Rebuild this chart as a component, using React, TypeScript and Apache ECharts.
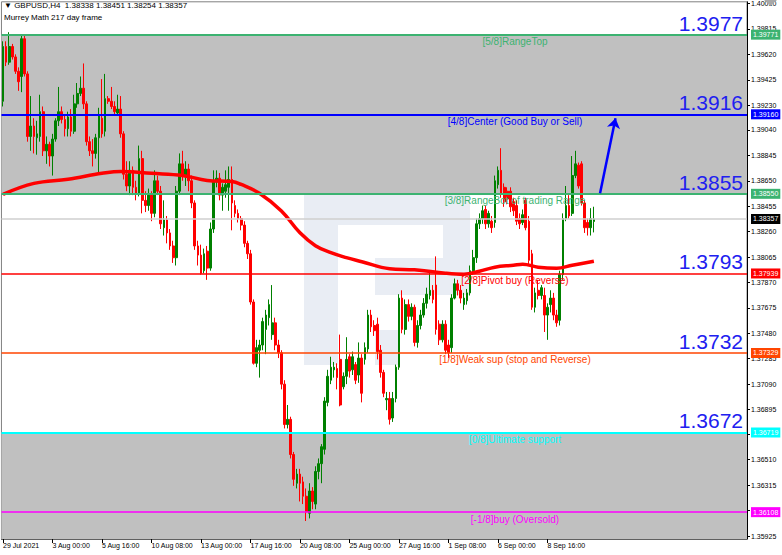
import React, { useEffect, useRef } from 'react';
import * as echarts from 'echarts';

// ---- data ----
const timeLabels = ['29 Jul 2021', '3 Aug 00:00', '5 Aug 16:00', '10 Aug 08:00', '13 Aug 00:00', '17 Aug 16:00', '20 Aug 08:00', '25 Aug 00:00', '27 Aug 16:00', '1 Sep 08:00', '6 Sep 00:00', '8 Sep 16:00'];
const LABEL_STEP = 16;
const SLOT_COUNT = 241;

// [open, close, low, high] per H4 bar
const ohlc: number[][] = [
  [1.3926, 1.3968, 1.3922, 1.3972], [1.3968, 1.3956, 1.3953, 1.3972], [1.3956, 1.3968, 1.3954, 1.3979], [1.3968, 1.3960, 1.3958, 1.3970],
  [1.3960, 1.3949, 1.3947, 1.3962], [1.3949, 1.3941, 1.3934, 1.3952], [1.3945, 1.3974, 1.3933, 1.3977], [1.3974, 1.3947, 1.3945, 1.3977],
  [1.3947, 1.3899, 1.3895, 1.3949], [1.3899, 1.3907, 1.3888, 1.3930], [1.3907, 1.3899, 1.3886, 1.3913], [1.3898, 1.3901, 1.3885, 1.3911],
  [1.3899, 1.3918, 1.3895, 1.3931], [1.3918, 1.3888, 1.3884, 1.3922], [1.3888, 1.3893, 1.3878, 1.3899], [1.3893, 1.3884, 1.3876, 1.3895],
  [1.3884, 1.3897, 1.3869, 1.3901], [1.3897, 1.3911, 1.3895, 1.3913], [1.3911, 1.3918, 1.3907, 1.3937], [1.3918, 1.3912, 1.3909, 1.3922],
  [1.3912, 1.3905, 1.3899, 1.3916], [1.3905, 1.3914, 1.3899, 1.3918], [1.3914, 1.3903, 1.3899, 1.3920], [1.3903, 1.3924, 1.3901, 1.3931],
  [1.3924, 1.3932, 1.3921, 1.3940], [1.3932, 1.3936, 1.3930, 1.3945], [1.3936, 1.3924, 1.3920, 1.3955], [1.3924, 1.3895, 1.3892, 1.3926],
  [1.3895, 1.3888, 1.3884, 1.3899], [1.3888, 1.3886, 1.3876, 1.3897], [1.3886, 1.3898, 1.3882, 1.3901], [1.3898, 1.3915, 1.3871, 1.3921],
  [1.3913, 1.3901, 1.3898, 1.3943], [1.3903, 1.3928, 1.3899, 1.3947], [1.3928, 1.3926, 1.3924, 1.3930], [1.3926, 1.3922, 1.3920, 1.3937],
  [1.3922, 1.3918, 1.3915, 1.3926], [1.3917, 1.3920, 1.3915, 1.3931], [1.3920, 1.3901, 1.3898, 1.3930], [1.3901, 1.3870, 1.3866, 1.3903],
  [1.3870, 1.3861, 1.3857, 1.3880], [1.3861, 1.3873, 1.3854, 1.3880], [1.3873, 1.3860, 1.3854, 1.3876], [1.3860, 1.3855, 1.3850, 1.3865],
  [1.3855, 1.3882, 1.3853, 1.3892], [1.3882, 1.3850, 1.3840, 1.3888], [1.3850, 1.3846, 1.3841, 1.3857], [1.3846, 1.3854, 1.3842, 1.3859],
  [1.3854, 1.3840, 1.3834, 1.3857], [1.3840, 1.3865, 1.3837, 1.3873], [1.3865, 1.3857, 1.3854, 1.3869], [1.3857, 1.3832, 1.3828, 1.3861],
  [1.3829, 1.3835, 1.3823, 1.3850], [1.3835, 1.3825, 1.3817, 1.3838], [1.3825, 1.3815, 1.3812, 1.3828], [1.3815, 1.3806, 1.3802, 1.3819],
  [1.3806, 1.3857, 1.3800, 1.3861], [1.3857, 1.3878, 1.3854, 1.3886], [1.3878, 1.3869, 1.3865, 1.3888], [1.3869, 1.3874, 1.3861, 1.3880],
  [1.3874, 1.3865, 1.3857, 1.3878], [1.3865, 1.3848, 1.3844, 1.3869], [1.3848, 1.3815, 1.3812, 1.3850], [1.3815, 1.3808, 1.3800, 1.3819],
  [1.3808, 1.3794, 1.3793, 1.3816], [1.3796, 1.3809, 1.3794, 1.3813], [1.3811, 1.3798, 1.3789, 1.3815],
  [1.3798, 1.3828, 1.3796, 1.3833], [1.3828, 1.3865, 1.3825, 1.3873], [1.3864, 1.3867, 1.3860, 1.3873], [1.3867, 1.3854, 1.3850, 1.3871],
  [1.3854, 1.3860, 1.3842, 1.3863], [1.3857, 1.3862, 1.3852, 1.3873], [1.3860, 1.3866, 1.3842, 1.3876], [1.3866, 1.3848, 1.3827, 1.3876],
  [1.3846, 1.3840, 1.3837, 1.3850], [1.3840, 1.3836, 1.3833, 1.3843], [1.3836, 1.3831, 1.3827, 1.3838], [1.3831, 1.3817, 1.3814, 1.3834],
  [1.3817, 1.3809, 1.3805, 1.3819], [1.3809, 1.3772, 1.3770, 1.3812], [1.3772, 1.3725, 1.3724, 1.3774], [1.3725, 1.3737, 1.3722, 1.3743],
  [1.3735, 1.3739, 1.3714, 1.3743], [1.3739, 1.3757, 1.3735, 1.3760], [1.3751, 1.3762, 1.3732, 1.3766], [1.3760, 1.3770, 1.3754, 1.3774],
  [1.3747, 1.3756, 1.3743, 1.3785], [1.3756, 1.3739, 1.3735, 1.3760], [1.3739, 1.3733, 1.3729, 1.3743],
  [1.3733, 1.3709, 1.3705, 1.3735], [1.3709, 1.3678, 1.3675, 1.3712], [1.3678, 1.3682, 1.3675, 1.3693], [1.3682, 1.3655, 1.3652, 1.3684],
  [1.3655, 1.3636, 1.3631, 1.3657], [1.3633, 1.3640, 1.3629, 1.3644], [1.3640, 1.3633, 1.3619, 1.3644], [1.3634, 1.3623, 1.3617, 1.3638],
  [1.3623, 1.3611, 1.3604, 1.3629], [1.3610, 1.3627, 1.3606, 1.3633], [1.3627, 1.3619, 1.3613, 1.3630], [1.3617, 1.3642, 1.3613, 1.3646],
  [1.3642, 1.3648, 1.3636, 1.3652], [1.3648, 1.3661, 1.3633, 1.3663], [1.3659, 1.3696, 1.3655, 1.3699], [1.3695, 1.3715, 1.3692, 1.3720],
  [1.3712, 1.3722, 1.3709, 1.3730], [1.3720, 1.3722, 1.3714, 1.3726], [1.3721, 1.3714, 1.3705, 1.3725], [1.3728, 1.3693, 1.3692, 1.3747], [1.3707, 1.3715, 1.3705, 1.3718],
  [1.3715, 1.3728, 1.3709, 1.3745], [1.3730, 1.3719, 1.3714, 1.3732], [1.3720, 1.3730, 1.3716, 1.3734], [1.3724, 1.3712, 1.3709, 1.3726],
  [1.3716, 1.3729, 1.3710, 1.3741], [1.3729, 1.3702, 1.3695, 1.3732], [1.3728, 1.3737, 1.3724, 1.3741], [1.3736, 1.3762, 1.3733, 1.3766],
  [1.3762, 1.3753, 1.3749, 1.3766], [1.3754, 1.3750, 1.3746, 1.3758], [1.3755, 1.3734, 1.3728, 1.3760], [1.3735, 1.3718, 1.3714, 1.3739], [1.3718, 1.3702, 1.3699, 1.3720],
  [1.3697, 1.3698, 1.3689, 1.3703], [1.3698, 1.3682, 1.3678, 1.3703], [1.3683, 1.3698, 1.3680, 1.3703], [1.3698, 1.3722, 1.3695, 1.3724],
  [1.3722, 1.3775, 1.3720, 1.3778], [1.3775, 1.3751, 1.3748, 1.3781], [1.3751, 1.3770, 1.3747, 1.3774], [1.3770, 1.3761, 1.3757, 1.3774],
  [1.3761, 1.3768, 1.3758, 1.3771], [1.3768, 1.3741, 1.3738, 1.3770], [1.3741, 1.3754, 1.3737, 1.3758], [1.3754, 1.3762, 1.3751, 1.3766],
  [1.3762, 1.3771, 1.3760, 1.3775], [1.3771, 1.3778, 1.3767, 1.3783], [1.3777, 1.3781, 1.3774, 1.3796], [1.3781, 1.3774, 1.3771, 1.3785],
  [1.3785, 1.3751, 1.3747, 1.3807], [1.3755, 1.3743, 1.3739, 1.3758], [1.3743, 1.3755, 1.3741, 1.3758], [1.3755, 1.3735, 1.3732, 1.3758],
  [1.3739, 1.3733, 1.3729, 1.3743], [1.3737, 1.3775, 1.3733, 1.3778], [1.3775, 1.3786, 1.3774, 1.3790], [1.3786, 1.3781, 1.3777, 1.3789],
  [1.3781, 1.3775, 1.3771, 1.3785], [1.3770, 1.3775, 1.3766, 1.3779], [1.3773, 1.3779, 1.3770, 1.3782], [1.3779, 1.3796, 1.3777, 1.3800],
  [1.3796, 1.3806, 1.3793, 1.3812], [1.3806, 1.3832, 1.3802, 1.3836], [1.3832, 1.3836, 1.3828, 1.3840], [1.3836, 1.3842, 1.3832, 1.3846],
  [1.3843, 1.3832, 1.3828, 1.3846], [1.3832, 1.3840, 1.3829, 1.3842], [1.3834, 1.3829, 1.3825, 1.3838], [1.3833, 1.3865, 1.3829, 1.3869],
  [1.3862, 1.3873, 1.3859, 1.3876], [1.3873, 1.3855, 1.3852, 1.3890], [1.3860, 1.3849, 1.3845, 1.3863], [1.3857, 1.3851, 1.3847, 1.3860],
  [1.3857, 1.3845, 1.3841, 1.3860], [1.3849, 1.3842, 1.3838, 1.3852], [1.3846, 1.3834, 1.3831, 1.3850], [1.3836, 1.3832, 1.3828, 1.3840],
  [1.3833, 1.3839, 1.3831, 1.3843], [1.3850, 1.3829, 1.3827, 1.3852], [1.3834, 1.3804, 1.3800, 1.3838], [1.3809, 1.3768, 1.3766, 1.3812],
  [1.3768, 1.3779, 1.3764, 1.3783], [1.3781, 1.3777, 1.3774, 1.3789], [1.3777, 1.3783, 1.3774, 1.3785], [1.3777, 1.3762, 1.3749, 1.3783],
  [1.3762, 1.3768, 1.3743, 1.3771], [1.3770, 1.3775, 1.3764, 1.3781], [1.3775, 1.3762, 1.3758, 1.3779], [1.3762, 1.3756, 1.3753, 1.3766],
  [1.3758, 1.3793, 1.3754, 1.3796], [1.3793, 1.3836, 1.3789, 1.3840], [1.3836, 1.3846, 1.3834, 1.3861], [1.3846, 1.3838, 1.3836, 1.3854],
  [1.3840, 1.3869, 1.3838, 1.3884], [1.3869, 1.3878, 1.3867, 1.3888], [1.3877, 1.3861, 1.3859, 1.3879], [1.3878, 1.3848, 1.3846, 1.3880],
  [1.3848, 1.3829, 1.3825, 1.3850], [1.3833, 1.3829, 1.3823, 1.3836], [1.3829, 1.3836, 1.3823, 1.3844], [1.38338, 1.38357, 1.38254, 1.38451],
];

// moving average (red thick line), sampled points [bar index, price]
const maPoints: number[][] = [
  [0, 1.38546], [10, 1.38630], [21, 1.38662], [32, 1.38707], [38, 1.38722], [48, 1.38707], [58, 1.38691],
  [66, 1.38653], [74, 1.38645], [77, 1.38622], [83, 1.38553], [90, 1.38419], [96, 1.38251], [101, 1.38152],
  [106, 1.38098], [111, 1.38060], [116, 1.38029], [125, 1.37975], [133, 1.37967], [143, 1.37941], [149, 1.37933],
  [154, 1.37956], [159, 1.37987], [165, 1.38002], [168, 1.38010], [173, 1.37987], [179, 1.37979], [184, 1.38002], [191, 1.38033],
];

const levelValues = [1.39771, 1.39160, 1.38550, 1.37939, 1.37329, 1.36719, 1.36108];
const levelNames = ['[5/8]RangeTop', '[4/8]Center (Good Buy or Sell)', '[3/8]RangeBot of trading Range', '[2/8]Pivot buy (Reverse)', '[1/8]Weak sup (stop and Reverse)', '[0/8]Ultimate support', '[-1/8]buy (Oversold)'];
const levelBig = ['1.3977', '1.3916', '1.3855', '1.3793', '1.3732', '1.3672', ''];
const levelColors = ['#3cb371', '#0000ff', '#3cb371', '#ff0000', '#ff4500', '#00ffff', '#ff00ff'];
const levelWidths = [2, 2, 2, 1.5, 1.5, 2, 1.5];

const yTickValues = [1.35925, 1.36120, 1.36315, 1.36510, 1.36705, 1.36895, 1.37090, 1.37285, 1.37480, 1.37675, 1.37870, 1.38065, 1.38260, 1.38455, 1.38650, 1.38845, 1.39040, 1.39230, 1.39425, 1.39620, 1.39815, 1.40010];
const Y_MIN = 1.35902;
const Y_MAX = 1.40023;

const lastPrice = 1.38357;
const headerLine = '\u25BC GBPUSD,H4  1.38338 1.38451 1.38254 1.38357';
const indicatorName = 'Murrey Math 217 day frame';

const arrowFrom = [193, 1.38555];
const arrowTo = [198, 1.3913];

const FONT = 'Liberation Sans, Arial, sans-serif';
const CLEAR = 'rgba(0,0,0,0)';

export default function App() {
  const ref = useRef<HTMLDivElement>(null);
  useEffect(() => {
    if (!ref.current) return;
    const chart = echarts.init(ref.current, null, { renderer: 'svg' });
    const categories = Array.from({ length: SLOT_COUNT }, (_, i) => String(i));
    const showIdx = (i: number) => i % LABEL_STEP === 0 && i / LABEL_STEP < timeLabels.length;
    const anchor = [[0, lastPrice]];
    const hiddenLine = { symbol: 'none', showSymbol: false, silent: true, lineStyle: { width: 0, color: CLEAR } };

    const option: any = {
      animation: false,
      backgroundColor: '#ffffff',
      grid: { left: 1, right: 35, top: 0, bottom: 16, show: true, borderColor: '#808080', borderWidth: 1, backgroundColor: 'transparent' },
      xAxis: {
        type: 'category',
        data: categories,
        boundaryGap: true,
        axisLine: { show: true, lineStyle: { color: '#606060', width: 1 } },
        axisTick: { show: true, interval: (i: number) => showIdx(i), alignWithLabel: true, length: 4, lineStyle: { color: '#000' } },
        axisLabel: {
          interval: (i: number) => showIdx(i),
          formatter: (_v: string, i: number) => timeLabels[i / LABEL_STEP] ?? '',
          align: 'left', color: '#000', fontSize: 7, fontFamily: FONT, margin: 3,
        },
        splitLine: { show: false },
      },
      yAxis: {
        type: 'value',
        position: 'right',
        min: Y_MIN,
        max: Y_MAX,
        axisLine: { show: true, lineStyle: { color: '#000', width: 1 } },
        axisTick: { show: true, customValues: yTickValues, length: 3, lineStyle: { color: '#000' } },
        axisLabel: { customValues: yTickValues, formatter: (v: number) => v.toFixed(5), color: '#000', fontSize: 7, fontFamily: FONT, margin: 4 },
        splitLine: { show: false },
      },
      graphic: {
        elements: [
          { type: 'rect', z: 1, silent: true, shape: { x: 304, y: 190, width: 166, height: 35 }, style: { fill: '#e9edf4' } },
          { type: 'rect', z: 1, silent: true, shape: { x: 304, y: 225, width: 34, height: 140 }, style: { fill: '#e9edf4' } },
          { type: 'rect', z: 1, silent: true, shape: { x: 443, y: 225, width: 27, height: 33 }, style: { fill: '#e9edf4' } },
          { type: 'rect', z: 1, silent: true, shape: { x: 375, y: 258, width: 95, height: 37 }, style: { fill: '#e9edf4' } },
          { type: 'rect', z: 1, silent: true, shape: { x: 375, y: 330, width: 25, height: 35 }, style: { fill: '#e9edf4' } },
          { type: 'text', z: 20, left: 4, top: 1, style: { text: headerLine, fontSize: 8, fontFamily: FONT, fill: '#000' } },
          { type: 'text', z: 20, left: 4, top: 13, style: { text: indicatorName, fontSize: 8, fontFamily: FONT, fill: '#000' } },
          { type: 'polygon', z: 20, shape: { points: [[764, 0], [777, 0], [770.5, 6]] }, style: { fill: '#a8a8a8' } },
        ],
      },
      series: [
        {
          type: 'line', name: 'bands', data: anchor, z: 0, ...hiddenLine,
          markArea: {
            silent: true,
            itemStyle: { color: '#c0c0c0' },
            data: [
              [{ yAxis: levelValues[0] }, { yAxis: levelValues[2] }],
              [{ yAxis: levelValues[5] }, { yAxis: Y_MIN }],
            ],
          },
          markLine: {
            silent: true, symbol: ['none', 'none'], precision: 5,
            data: [{
              yAxis: lastPrice,
              lineStyle: { color: '#cfcfcf', width: 1.5, type: 'solid', opacity: 1 },
              label: { show: true, position: 'end', distance: 4, formatter: lastPrice.toFixed(5), backgroundColor: '#000', color: '#fff', fontSize: 7, fontFamily: FONT, padding: [2, 2, 1, 2] },
            }],
          },
        },
        {
          type: 'candlestick', name: 'GBPUSD', data: ohlc, z: 3, barWidth: '72%',
          itemStyle: { color: '#008000', color0: '#ff0000', borderColor: '#008000', borderColor0: '#ff0000', borderWidth: 1 },
        },
        {
          type: 'line', name: 'levels', data: anchor, z: 5, ...hiddenLine,
          markLine: {
            silent: true, symbol: ['none', 'none'], precision: 5,
            data: levelValues.map((v, i) => ({
              yAxis: v,
              lineStyle: { color: levelColors[i], width: levelWidths[i], type: 'solid', opacity: 1 },
              label: { show: true, position: 'end', distance: 4, formatter: v.toFixed(5), backgroundColor: levelColors[i], color: '#fff', fontSize: 7, fontFamily: FONT, padding: [2, 2, 1, 2] },
            })),
          },
        },
        {
          type: 'line', name: 'bigLabels', data: anchor, z: 5, ...hiddenLine,
          markLine: {
            silent: true, symbol: ['none', 'none'], precision: 5,
            data: levelValues.filter((_, i) => levelBig[i]).map((v, i) => ({
              yAxis: v,
              lineStyle: { color: CLEAR, width: 0, opacity: 1 },
              label: { show: true, position: 'insideEndTop', distance: 1, formatter: levelBig[i], color: '#2020f0', fontSize: 21, fontFamily: FONT, padding: [0, 3, 0, 0] },
            })),
          },
        },
        {
          type: 'line', name: 'levelTexts', data: anchor, z: 5, ...hiddenLine,
          markLine: {
            silent: true, symbol: ['none', 'none'], precision: 5,
            data: levelValues.map((v, i) => ([
              { coord: [91, v], lineStyle: { color: CLEAR, width: 0, opacity: 1 }, label: { show: true, position: 'insideMiddleBottom', distance: 2, formatter: levelNames[i], color: levelColors[i], fontSize: 10, fontFamily: FONT } },
              { coord: [240, v] },
            ])),
          },
        },
        {
          type: 'line', name: 'MA', data: maPoints, z: 4, smooth: 0.4, symbol: 'none', silent: true,
          lineStyle: { color: '#ff0000', width: 3.5 },
          markLine: {
            silent: true, symbol: ['none', 'arrow'], symbolSize: 10, precision: 5,
            lineStyle: { color: '#0000ff', width: 2.5, type: 'solid' },
            label: { show: false },
            data: [[{ coord: arrowFrom }, { coord: arrowTo }]],
          },
        },
      ],
    };
    chart.setOption(option);
    return () => chart.dispose();
  }, []);
  return <div ref={ref} style={{ position: 'fixed', left: 0, top: 0, width: 782, height: 555 }} />;
}
